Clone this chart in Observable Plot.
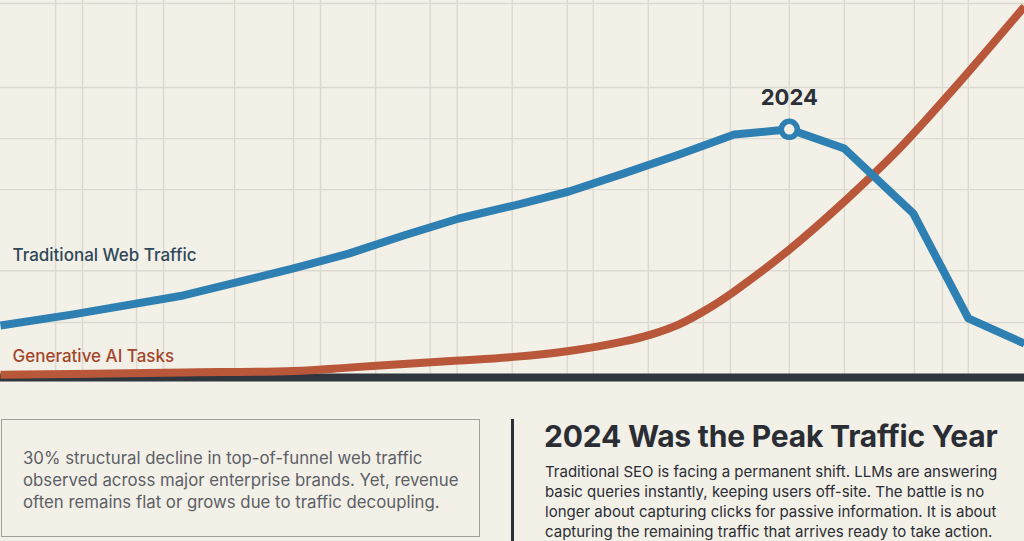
<!DOCTYPE html>
<html>
<head>
<meta charset="utf-8">
<script src="https://cdn.jsdelivr.net/npm/d3@7"></script>
<script src="https://cdn.jsdelivr.net/npm/@observablehq/plot@0.6"></script>
<style>
  html, body { margin: 0; padding: 0; background: #f3f0e8; }
  #page { position: relative; width: 1024px; height: 541px; overflow: hidden; background: #f3f0e8; font-family: Inter, "Noto Sans", sans-serif; }
  #chart { position: absolute; left: 0; top: 0; }
  #box { position: absolute; left: 1px; top: 419px; width: 479px; height: 118px; border: 1.5px solid #a09f9a; box-sizing: border-box; padding: 27px 0 0 21px; color: #5c6066; font-size: 16.8px; line-height: 22px; }
  #bar { position: absolute; left: 511px; top: 419px; width: 3px; height: 122px; background: #2c3036; }
  #title { position: absolute; left: 544px; top: 417px; font-size: 30px; line-height: 38px; font-weight: 700; color: #2a2e34; white-space: nowrap; letter-spacing: -0.2px; }
  #para { position: absolute; left: 545px; top: 462px; font-size: 15px; line-height: 20px; color: #2a2e34; }
  .ln { white-space: nowrap; }
</style>
</head>
<body>
<div id="page">
  <div id="chart"></div>
  <div id="box"></div>
  <div id="bar"></div>
  <div id="title"></div>
  <div id="para"></div>
</div>
<script>
// ---- data ----
const years = [2009.68, 2011, 2013, 2015, 2016, 2017, 2018, 2019, 2020, 2021, 2022, 2023, 2024, 2025, 2026.25, 2027.25, 2028.27];
const webTraffic = [13.8, 16.8, 21.9, 29.2, 33.2, 38.1, 42.7, 46.2, 50.0, 54.9, 60.0, 65.4, 66.8, 61.6, 44.1, 15.7, 8.9];
const aiYears = [2009.68, 2011, 2013, 2015, 2016, 2017, 2018, 2019, 2020, 2021, 2021.5, 2022, 2022.5, 2023, 2024, 2025, 2026, 2027, 2028.27];
const aiTasks = [0.5, 0.7, 1.1, 1.5, 2.4, 3.4, 4.3, 5.3, 6.9, 9.5, 11.4, 14.1, 18.1, 23.0, 34.3, 47.3, 61.6, 78.0, 100];
const gridYears = [2010.68, 2011.17, 2012.15, 2012.64, 2013.93, 2015.0, 2015.49, 2016.49, 2017.48, 2017.97, 2018.97, 2019.97, 2020.44, 2021.44, 2022.44, 2022.93, 2024, 2025, 2026.27, 2026.78, 2027.25];
const gridValues = [14.6, 28.6, 50.5, 64.3, 78.1, 100.8];
const seriesNames = ["Traditional Web Traffic", "Generative AI Tasks"];
const peakYear = 2024;
const boxLines = [
  "30% structural decline in top-of-funnel web traffic",
  "observed across major enterprise brands. Yet, revenue",
  "often remains flat or grows due to traffic decoupling."
];
const titleText = "2024 Was the Peak Traffic Year";
const paraLines = [
  "Traditional SEO is facing a permanent shift. LLMs are answering",
  "basic queries instantly, keeping users off-site. The battle is no",
  "longer about capturing clicks for passive information. It is about",
  "capturing the remaining traffic that arrives ready to take action."
];

// ---- build ----
const web = years.map((y, i) => ({year: y, value: webTraffic[i]}));
const ai = aiYears.map((y, i) => ({year: y, value: aiTasks[i]}));
const peak = web.filter(d => d.year === peakYear);

const BG = "#f3f0e8", BLUE = "#2f80b2", ORANGE = "#b8573a", DARK = "#2f363e", GRID = "#dcd9d1";

const chart = Plot.plot({
  width: 1024,
  height: 395,
  margin: 0,
  x: {domain: [2009.68, 2028.27], range: [0, 1024], axis: null},
  y: {domain: [0, 100], range: [376, 6], axis: null},
  style: {background: "transparent", overflow: "visible"},
  marks: [
    Plot.ruleY(gridValues, {stroke: GRID, strokeWidth: 1.4}),
    Plot.ruleX(gridYears, {y1: 0, y2: 102, stroke: GRID, strokeWidth: 1.4}),
    Plot.ruleY([0], {stroke: DARK, strokeWidth: 8, dy: 1}),
    Plot.line(ai, {x: "year", y: "value", stroke: ORANGE, strokeWidth: 8, curve: "catmull-rom", strokeLinecap: "butt"}),
    Plot.line(web, {x: "year", y: "value", stroke: BLUE, strokeWidth: 8, curve: "linear", strokeLinejoin: "round", strokeLinecap: "butt"}),
    Plot.dot(peak, {x: "year", y: "value", r: 8, stroke: BLUE, strokeWidth: 5.5, fill: BG}),
    Plot.text(peak, {x: "year", y: "value", text: d => String(d.year), dy: -31, fontSize: 22, fontWeight: 700, fill: "#2b3038", fontFamily: "Inter"}),
    Plot.text([seriesNames[0]], {text: d => d, frameAnchor: "left", dx: 12, y: 32.6, textAnchor: "start", fontSize: 17, fontWeight: 500, fill: "#2f4858", fontFamily: "Inter"}),
    Plot.text([seriesNames[1]], {text: d => d, frameAnchor: "left", dx: 12, y: 5.4, textAnchor: "start", fontSize: 17, fontWeight: 500, fill: "#a3472b", fontFamily: "Inter"})
  ]
});
document.getElementById("chart").appendChild(chart);

const box = document.getElementById("box");
boxLines.forEach(t => { const d = document.createElement("div"); d.className = "ln"; d.textContent = t; box.appendChild(d); });
document.getElementById("title").textContent = titleText;
const para = document.getElementById("para");
paraLines.forEach(t => { const d = document.createElement("div"); d.className = "ln"; d.textContent = t; para.appendChild(d); });
</script>
</body>
</html>
